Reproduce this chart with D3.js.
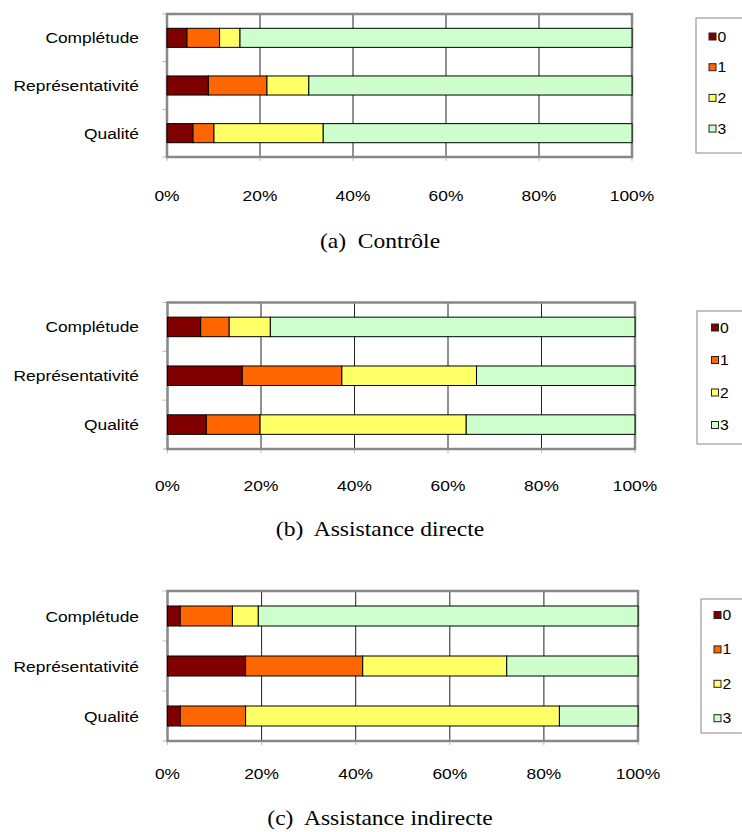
<!DOCTYPE html>
<html><head><meta charset="utf-8">
<script src="https://cdn.jsdelivr.net/npm/d3@7"></script>
<style>
html,body{margin:0;padding:0;background:#fff;}
svg{display:block;}
.sans{font-family:"Liberation Sans",Arial,sans-serif;fill:#000;}
.serif{font-family:"Liberation Serif","Times New Roman",serif;fill:#000;white-space:pre;}
</style></head>
<body>
<svg id="chart" width="742" height="832"></svg>
<script>
// ---------- DATA ----------
const categories = ["Complétude", "Représentativité", "Qualité"];
const levels = ["0", "1", "2", "3"];
const levelColors = ["#800000", "#FF6600", "#FFFF66", "#CCFFCC"];
const tickValues = [0, 20, 40, 60, 80, 100];
const tickLabels = ["0%", "20%", "40%", "60%", "80%", "100%"];
const captions = ["(a)  Contrôle", "(b)  Assistance directe", "(c)  Assistance indirecte"];

// percentage per category (Complétude, Représentativité, Qualité) for each level
const controle_0 = [4.3, 8.9, 5.6];
const controle_1 = [7.0, 12.6, 4.5];
const controle_2 = [4.4, 9.0, 23.5];
const controle_3 = [84.3, 69.5, 66.4];

const directe_0 = [7.1, 16.0, 8.3];
const directe_1 = [6.1, 21.3, 11.5];
const directe_2 = [8.8, 28.8, 44.1];
const directe_3 = [78.0, 33.9, 36.1];

const indirecte_0 = [2.7, 16.6, 2.7];
const indirecte_1 = [11.1, 24.9, 13.9];
const indirecte_2 = [5.5, 30.6, 66.7];
const indirecte_3 = [80.7, 27.9, 16.7];

const panelSeries = [
  [controle_0, controle_1, controle_2, controle_3],
  [directe_0, directe_1, directe_2, directe_3],
  [indirecte_0, indirecte_1, indirecte_2, indirecte_3]
];

// ---------- LAYOUT ----------
const panels = [
  {x0:167, x1:632, y0:14, y1:157, tickY:201, capY:248,
   leg:{x:696, y0:18, y1:153, sq:709, row0:36.5, step:30.7}},
  {x0:167.5, x1:635, y0:302.5, y1:449, tickY:491, capY:536,
   leg:{x:697, y0:311, y1:444, sq:711.5, row0:327.5, step:32.5}},
  {x0:167.5, x1:638, y0:591, y1:741, tickY:779, capY:825,
   leg:{x:701, y0:599, y1:733, sq:714, row0:615, step:34.4}}
];
const labelRight = 139;
const capCenter = 380;
const stretch = 1.12;

const svg = d3.select("#chart");

panels.forEach((p, pi) => {
  const series = panelSeries[pi];
  const rows = categories.map((c, ci) => {
    const r = {cat: c};
    levels.forEach((l, li) => r[l] = series[li][ci]);
    return r;
  });
  const stacked = d3.stack().keys(levels)(rows);

  const x = d3.scaleLinear().domain([0, 100]).range([p.x0, p.x1]);
  const y = d3.scaleBand().domain(categories).range([p.y0, p.y1])
    .paddingInner(0.6).paddingOuter(0.3);

  const g = svg.append("g");

  // gridlines
  g.selectAll("line.grid").data(tickValues.slice(1, -1)).join("line")
    .attr("x1", d => x(d)).attr("x2", d => x(d))
    .attr("y1", p.y0).attr("y2", p.y1)
    .attr("stroke", "#222").attr("stroke-width", 1);

  // small axis ticks (bottom)
  g.selectAll("line.bt").data(tickValues).join("line")
    .attr("x1", d => x(d)).attr("x2", d => x(d))
    .attr("y1", p.y1).attr("y2", p.y1 + 4)
    .attr("stroke", "#bbb").attr("stroke-width", 1);
  // small axis ticks (left, band boundaries)
  const bounds = [p.y0, ...categories.slice(1).map(c => y(c) - y.step() * y.paddingInner() / 2), p.y1];
  g.selectAll("line.lt").data(bounds).join("line")
    .attr("x1", p.x0 - 5).attr("x2", p.x0)
    .attr("y1", d => d).attr("y2", d => d)
    .attr("stroke", "#bbb").attr("stroke-width", 1);

  // frame
  g.append("rect").attr("x", p.x0).attr("y", p.y0)
    .attr("width", p.x1 - p.x0).attr("height", p.y1 - p.y0)
    .attr("fill", "none").attr("stroke", "#888").attr("stroke-width", 2.5);

  // bars
  stacked.forEach((s, si) => {
    g.selectAll(null).data(s).join("rect")
      .attr("x", d => x(d[0])).attr("width", d => x(d[1]) - x(d[0]))
      .attr("y", d => y(d.data.cat)).attr("height", y.bandwidth())
      .attr("fill", levelColors[si]).attr("stroke", "#000").attr("stroke-width", 1);
  });

  // category labels
  g.selectAll("text.cat").data(categories).join("text")
    .attr("class", "sans stretchR")
    .attr("x", labelRight).attr("y", d => y(d) + y.bandwidth() / 2 + 5.5)
    .attr("text-anchor", "end").attr("font-size", 15.5)
    .text(d => d);

  // tick labels
  g.selectAll("text.tick").data(tickValues).join("text")
    .attr("class", "sans stretchM")
    .attr("x", d => x(d)).attr("y", p.tickY)
    .attr("text-anchor", "middle").attr("font-size", 15.5)
    .text((d, i) => tickLabels[i]);

  // legend
  const L = p.leg;
  g.append("rect").attr("x", L.x).attr("y", L.y0)
    .attr("width", 760 - L.x).attr("height", L.y1 - L.y0)
    .attr("fill", "#fff").attr("stroke", "#888").attr("stroke-width", 1);
  levels.forEach((l, li) => {
    const cy = L.row0 + li * L.step;
    g.append("rect").attr("x", L.sq).attr("y", cy - 3.5)
      .attr("width", 7).attr("height", 7)
      .attr("fill", levelColors[li]).attr("stroke", "#222").attr("stroke-width", 1);
    g.append("text").attr("class", "sans stretchL")
      .attr("x", L.sq + 8.5).attr("y", cy + 5)
      .attr("font-size", 14).text(l);
  });

  // caption
  svg.append("text").attr("class", "serif")
    .attr("x", capCenter).attr("y", p.capY)
    .attr("text-anchor", "middle").attr("font-size", 21)
    .attr("data-stretch", 1.12)
    .text(captions[pi]);
});

// horizontal stretch of the text to mimic the original's aspect
svg.selectAll("text").each(function() {
  const el = d3.select(this);
  const f = +(el.attr("data-stretch") || stretch);
  const w = this.getComputedTextLength();
  el.attr("textLength", w * f).attr("lengthAdjust", "spacingAndGlyphs");
});
</script>
</body></html>
